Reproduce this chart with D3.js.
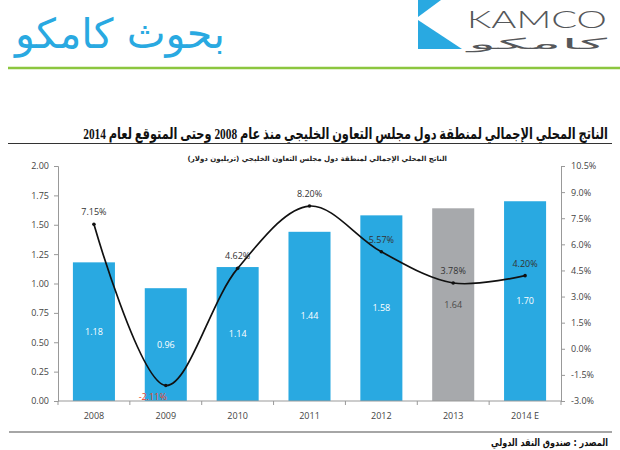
<!DOCTYPE html>
<html>
<head>
<meta charset="utf-8">
<script src="https://cdn.jsdelivr.net/npm/d3@7"></script>
<style>
  body { margin: 0; background: #fff; }
  svg { display: block; }
</style>
</head>
<body>
<script>
// البيانات
const years = ["2008", "2009", "2010", "2011", "2012", "2013", "2014 E"];
const gdp = [1.18, 0.96, 1.14, 1.44, 1.58, 1.64, 1.70];
const growth = [7.15, -2.11, 4.62, 8.20, 5.57, 3.78, 4.20];
const leftTicks = [0, 0.25, 0.5, 0.75, 1, 1.25, 1.5, 1.75, 2];
const rightTicks = [-3, -1.5, 0, 1.5, 3, 4.5, 6, 7.5, 9, 10.5];

const title = "الناتج المحلي الإجمالي لمنطقة دول مجلس التعاون الخليجي منذ عام 2008 وحتى المتوقع لعام 2014";
const subtitle = "الناتج المحلي الإجمالي لمنطقة دول مجلس التعاون الخليجي (تريليون دولار)";
const source = "المصدر : صندوق النقد الدولي";

const blue = "#29a9e1";
const grey = "#a7a9ac";

const svg = d3.select("body")
    .append("svg")
    .attr("width", 620)
    .attr("height", 450);

// يضبط حجم الخط حتى يأخذ النص العرض المطلوب
function fitWidth(sel, width) {
    const size = parseFloat(sel.attr("font-size"));
    const len = sel.node().getComputedTextLength();
    sel.attr("font-size", (size * width / len).toFixed(2) + "px");
    return sel;
}

// يمد النص أفقيا داخل مجموعة حتى يأخذ العرض المطلوب
function stretchText(g, tx, ty, width) {
    const len = g.select("text").node().getComputedTextLength();
    g.attr("transform", "translate(" + tx + "," + ty + ") scale(" + (width / len) + ",1)");
}

// الرأس: الشعار والعنوان
svg.append("text")
    .attr("x", 15)
    .attr("y", 48)
    .attr("font-family", "DejaVu Sans")
    .attr("font-size", "40px")
    .attr("fill", blue)
    .text("بحوث كامكو")
    .call(fitWidth, 210);

svg.append("polygon")
    .attr("points", "418,0 441,0 418,17")
    .attr("fill", blue);
svg.append("polygon")
    .attr("points", "418,20 462,49 418,49")
    .attr("fill", blue);

const logoEn = svg.append("g");
logoEn.append("text")
    .attr("font-family", "Lato, 'Open Sans', sans-serif")
    .attr("font-weight", 300)
    .attr("font-size", "24px")
    .attr("fill", "#55575a")
    .text("KAMCO");
stretchText(logoEn, 467, 28, 140);

const logoAr = svg.append("g");
logoAr.append("text")
    .attr("font-family", "DejaVu Sans")
    .attr("font-size", "15px")
    .attr("fill", "#55575a")
    .text("كامكو");
stretchText(logoAr, 468, 49, 139);

svg.append("line")
    .attr("x1", 8).attr("x2", 620)
    .attr("y1", 68).attr("y2", 68)
    .style("stroke", "#8cc63f")
    .style("stroke-width", 2.5);

// العنوان: عرض ثابت مع تكبير رأسي
svg.append("g")
    .attr("transform", "translate(608,139) scale(1,1.35)")
    .append("text")
    .attr("direction", "rtl")
    .attr("text-anchor", "start")
    .attr("font-family", "'Liberation Serif', 'DejaVu Sans', serif")
    .attr("font-weight", "bold")
    .attr("font-size", "16px")
    .attr("fill", "#111")
    .text(title)
    .call(fitWidth, 525);

svg.append("line")
    .attr("x1", 8).attr("x2", 612)
    .attr("y1", 143.5).attr("y2", 143.5)
    .style("stroke", "#333")
    .style("stroke-width", 1);

svg.append("text")
    .attr("x", 447)
    .attr("y", 161)
    .attr("direction", "rtl")
    .attr("text-anchor", "start")
    .attr("font-family", "DejaVu Sans")
    .attr("font-weight", "bold")
    .attr("font-size", "9px")
    .attr("fill", "#222")
    .text(subtitle)
    .call(fitWidth, 260);

// المقاييس
const x = d3.scaleBand()
    .domain(years)
    .range([58, 561])
    .paddingInner(0.415)
    .paddingOuter(0.2075);

const yLeft = d3.scaleLinear()
    .domain([0, 2])
    .range([401, 166]);

const yRight = d3.scaleLinear()
    .domain([-3, 10.5])
    .range([401, 166]);

// الأعمدة
svg.selectAll("rect.bar")
    .data(years)
    .enter()
    .append("rect")
    .attr("class", "bar")
    .attr("x", function (d) { return x(d); })
    .attr("y", function (d, i) { return yLeft(gdp[i]); })
    .attr("width", x.bandwidth())
    .attr("height", function (d, i) { return yLeft(0) - yLeft(gdp[i]); })
    .style("fill", function (d) { return d === "2013" ? grey : blue; });

svg.selectAll("text.barLabel")
    .data(years)
    .enter()
    .append("text")
    .attr("class", "barLabel")
    .attr("x", function (d) { return x(d) + x.bandwidth() / 2; })
    .attr("y", function (d, i) { return yLeft(gdp[i] / 2) + 3; })
    .attr("text-anchor", "middle")
    .attr("font-family", "'Open Sans', 'DejaVu Sans', sans-serif")
    .attr("font-size", "9px")
    .attr("fill", function (d) { return d === "2013" ? "#4a4a4a" : "#fff"; })
    .text(function (d, i) { return gdp[i].toFixed(2); });

// المحاور
const axisFont = "'Open Sans', 'DejaVu Sans', sans-serif";

const leftAxis = svg.append("g")
    .attr("transform", "translate(58,0)")
    .call(d3.axisLeft(yLeft)
        .tickValues(leftTicks)
        .tickSize(4)
        .tickPadding(5)
        .tickFormat(d3.format(".2f")));

const rightAxis = svg.append("g")
    .attr("transform", "translate(561,0)")
    .call(d3.axisRight(yRight)
        .tickValues(rightTicks)
        .tickSize(4)
        .tickPadding(6)
        .tickFormat(function (d) { return d.toFixed(1) + "%"; }));

const bottomAxis = svg.append("g")
    .attr("transform", "translate(0,401)")
    .call(d3.axisBottom(x)
        .tickSize(0)
        .tickPadding(12));

// شرطات المحور الأفقي بين الفئات
svg.selectAll("line.catTick")
    .data(d3.range(years.length + 1))
    .enter()
    .append("line")
    .attr("class", "catTick")
    .attr("x1", function (d) { return 58 + d * x.step(); })
    .attr("x2", function (d) { return 58 + d * x.step(); })
    .attr("y1", 401)
    .attr("y2", 405)
    .style("stroke", "#999");

[leftAxis, rightAxis, bottomAxis].forEach(function (g) {
    g.selectAll("path, line").style("stroke", "#999");
    g.selectAll("text")
        .attr("font-family", axisFont)
        .attr("font-size", "9px")
        .attr("fill", "#444");
});
bottomAxis.select("path").attr("d", "M58,0H561");

// خط النمو
const line = d3.line()
    .x(function (d, i) { return x(years[i]) + x.bandwidth() / 2; })
    .y(function (d) { return yRight(d); })
    .curve(d3.curveCatmullRom);

svg.append("path")
    .datum(growth)
    .attr("d", line)
    .style("fill", "none")
    .style("stroke", "#111")
    .style("stroke-width", 1.7);

svg.selectAll("circle")
    .data(growth)
    .enter()
    .append("circle")
    .attr("cx", function (d, i) { return x(years[i]) + x.bandwidth() / 2; })
    .attr("cy", function (d) { return yRight(d); })
    .attr("r", 1.8)
    .style("fill", "#111");

svg.selectAll("text.growthLabel")
    .data(growth)
    .enter()
    .append("text")
    .attr("class", "growthLabel")
    .attr("x", function (d, i) { return x(years[i]) + x.bandwidth() / 2 - (d < 0 ? 13 : 0); })
    .attr("y", function (d) { return yRight(d) + (d < 0 ? 14 : -9); })
    .attr("text-anchor", "middle")
    .attr("font-family", axisFont)
    .attr("font-size", "9px")
    .attr("fill", function (d) { return d < 0 ? "#e8452c" : "#333"; })
    .text(function (d) { return d.toFixed(2) + "%"; });

// المصدر
svg.append("line")
    .attr("x1", 9).attr("x2", 612)
    .attr("y1", 432).attr("y2", 432)
    .style("stroke", "#888")
    .style("stroke-width", 1.5);

svg.append("g")
    .attr("transform", "translate(608,446) scale(1,1.25)")
    .append("text")
    .attr("direction", "rtl")
    .attr("text-anchor", "start")
    .attr("font-family", "DejaVu Sans")
    .attr("font-weight", "bold")
    .attr("font-size", "10px")
    .attr("fill", "#111")
    .text(source)
    .call(fitWidth, 117);
</script>
</body>
</html>
